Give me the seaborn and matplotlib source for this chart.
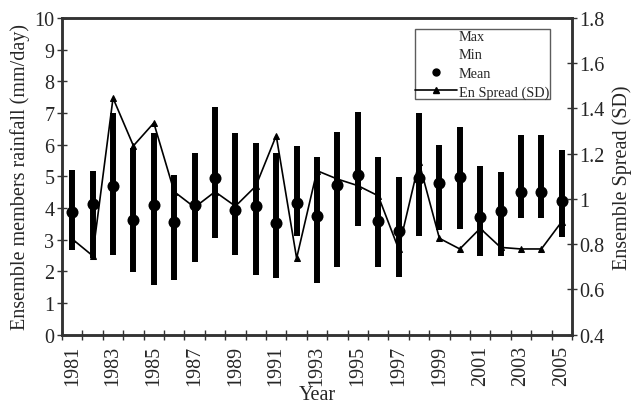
import matplotlib
matplotlib.use("Agg")
import matplotlib.pyplot as plt
from matplotlib.lines import Line2D
import seaborn as sns
import pandas as pd
import numpy as np

years = list(range(1981, 2006))
max_vals = [5.21, 5.16, 7.00, 5.89, 6.36, 5.05, 5.73, 7.18, 6.37, 6.05,
            5.73, 5.97, 5.60, 6.41, 7.04, 5.62, 4.99, 7.00, 5.99, 6.55,
            5.34, 5.13, 6.31, 6.31, 5.84]
min_vals = [2.68, 2.41, 2.52, 1.99, 1.58, 1.74, 2.31, 3.04, 2.52, 1.89,
            1.78, 3.13, 1.63, 2.13, 3.42, 2.15, 1.83, 3.11, 3.32, 3.34,
            2.48, 2.48, 3.69, 3.69, 3.10]
mean_vals = [3.86, 4.13, 4.70, 3.62, 4.10, 3.55, 4.10, 4.94, 3.95, 4.05,
             3.52, 4.15, 3.74, 4.73, 5.04, 3.60, 3.28, 4.95, 4.79, 4.97,
             3.71, 3.90, 4.52, 4.52, 4.23]
sd_vals = [0.823, 0.749, 1.446, 1.235, 1.336, 1.032, 0.963, 1.032, 0.968, 1.057,
           1.28, 0.738, 1.125, 1.088, 1.059, 1.014, 0.779, 1.162, 0.826, 0.779,
           0.870, 0.786, 0.779, 0.779, 0.900]

df = pd.DataFrame({"Year": years, "Max": max_vals, "Min": min_vals,
                   "Mean": mean_vals, "SD": sd_vals})

sns.set_theme(style="ticks")
plt.rcParams["font.family"] = ["Liberation Serif", "DejaVu Serif"]

fig = plt.figure(figsize=(6.31, 4.10), dpi=100)
ax = fig.add_axes([0.0983, 0.1812, 0.8082, 0.7725])
ax2 = ax.twinx()

# High-low bars
ax.vlines(df["Year"], df["Min"], df["Max"], color="black", linewidth=4.3, zorder=2)
sns.scatterplot(data=df, x="Year", y="Mean", ax=ax, color="black", s=75,
                marker="o", edgecolor="black", linewidth=0, zorder=3, legend=False)

sns.lineplot(data=df, x="Year", y="SD", ax=ax2, color="black", linewidth=1.2,
             marker="^", markersize=4.5, markeredgecolor="black", legend=False)

ax.set_xlim(1980.5, 2005.5)
ax.set_ylim(0, 10)
ax2.set_ylim(0.4, 1.8)
ax.set_yticks(range(0, 11))
ax.set_yticklabels([str(i) for i in range(0, 11)])
r_ticks = [0.4, 0.6, 0.8, 1.0, 1.2, 1.4, 1.6, 1.8]
ax2.set_yticks(r_ticks)
ax2.set_yticklabels(["0.4", "0.6", "0.8", "1", "1.2", "1.4", "1.6", "1.8"])

# x ticks: boundaries as ticks, labels at odd years
ax.set_xticks(np.arange(1980.5, 2006, 1.0))
ax.set_xticklabels([])
ax.set_xticks(years[::2], minor=True)
ax.set_xticklabels([str(y) for y in years[::2]], minor=True, rotation=90)
ax.tick_params(axis="x", which="minor", length=0, labelsize=14.5, pad=7)
ax.tick_params(axis="x", which="major", direction="inout", length=7, width=1, color="#333333")
ax.tick_params(axis="y", direction="inout", length=7, width=1, labelsize=14.5, pad=2, color="#333333")
ax2.tick_params(axis="y", direction="inout", length=7, width=1, labelsize=14.5, pad=2, color="#333333")

for a in (ax, ax2):
    for s in a.spines.values():
        s.set_visible(True)
        s.set_linewidth(1.8)
        s.set_color("#333333")

ax.set_xlabel("Year", fontsize=14.5, labelpad=0)
ax.set_ylabel("Ensemble members rainfall (mm/day)", fontsize=14.5, labelpad=3)
ax2.set_ylabel("Ensemble Spread (SD)", fontsize=14.5, labelpad=5)

handles = [
    Line2D([], [], linestyle="none", marker=None, label="Max"),
    Line2D([], [], linestyle="none", marker=None, label="Min"),
    Line2D([], [], linestyle="none", marker="o", color="black", markersize=5, label="Mean"),
    Line2D([], [], color="black", linewidth=1.2, marker="^", markersize=4, label="En Spread (SD)"),
]
leg = ax2.legend(handles=handles, loc="upper right", bbox_to_anchor=(0.957, 0.965),
                 fontsize=10.3, frameon=True, fancybox=False, borderpad=0.05,
                 labelspacing=0.38, handlelength=2.9, handletextpad=0.15,
                 borderaxespad=0)
leg.get_frame().set_edgecolor("#333333")
leg.get_frame().set_linewidth(1.0)

fig.savefig("out.png", dpi=100)
